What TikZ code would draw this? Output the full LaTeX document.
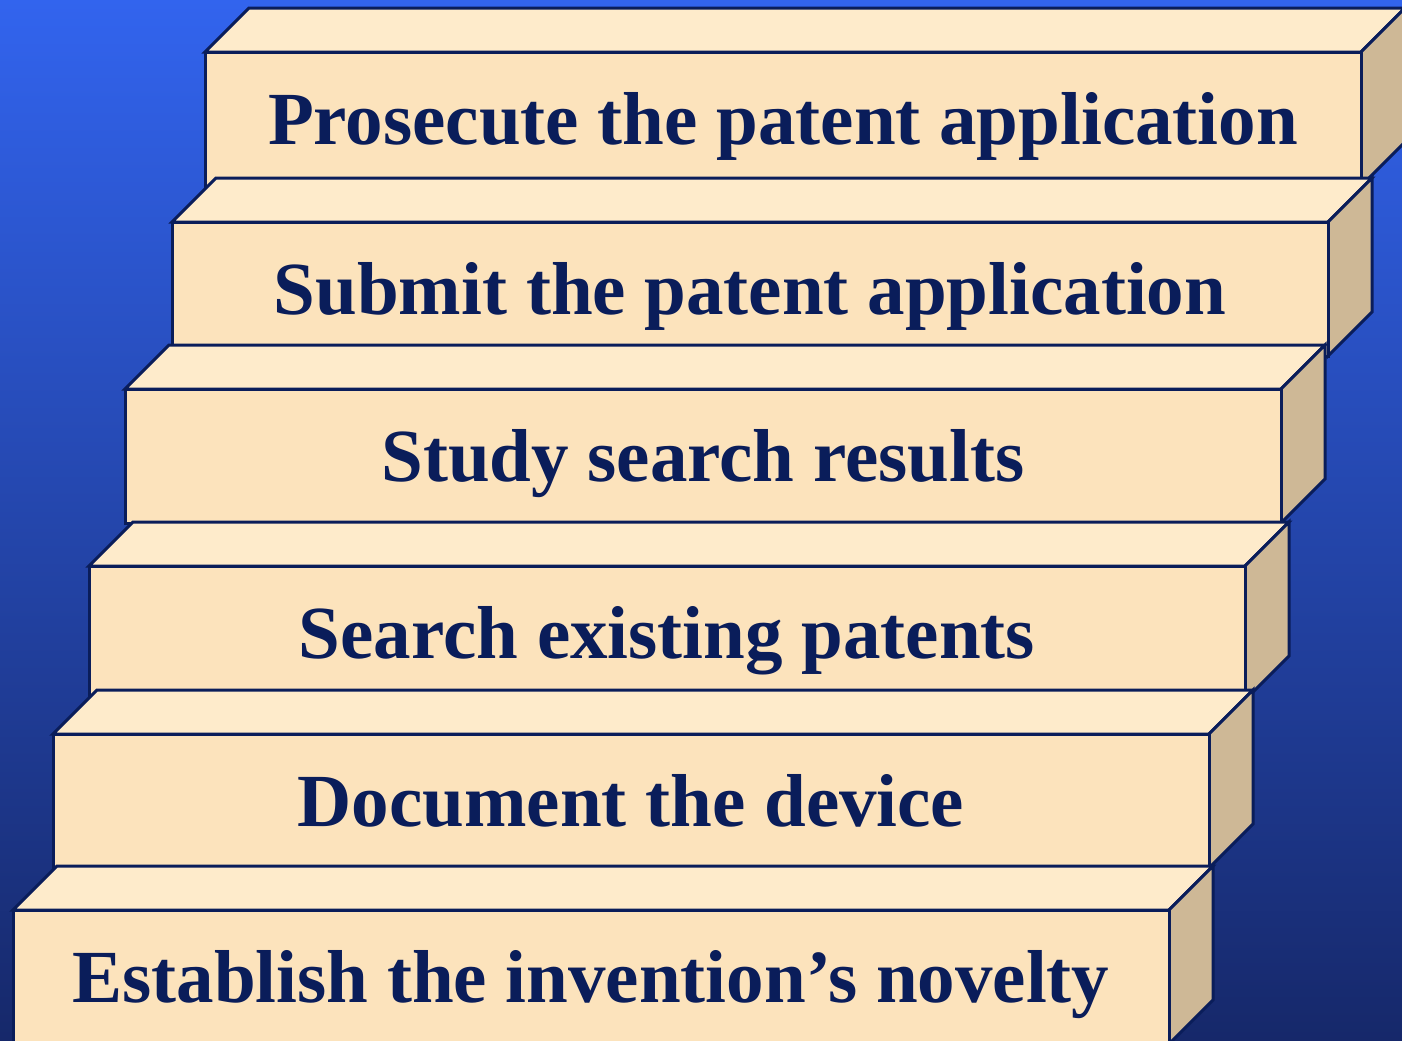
\documentclass[tikz,border=0pt]{standalone}
\usepackage{fontspec}
\setmainfont{Liberation Serif}
\definecolor{stepfront}{HTML}{FCE3BC}
\definecolor{steptop}{HTML}{FEEBCB}
\definecolor{stepside}{HTML}{CEB896}
\definecolor{navy}{HTML}{0A1D5A}
\definecolor{skytop}{HTML}{3264EE}
\definecolor{skybottom}{HTML}{16286A}
\begin{document}
\begin{tikzpicture}[x=0.5pt, y=-0.5pt,
  face/.style={draw=navy, line width=1.5pt, line join=miter},
  steptext/.style={anchor=base, text=navy, font=\bfseries\fontsize{37.5}{40}\selectfont}]
\shade[top color=skytop, bottom color=skybottom] (0,0) rectangle (1402,1040);
\useasboundingbox (0,0) rectangle (1402,1040);

% steps, top one first so the lower ones lie over it
\foreach \x/\y/\txt [count=\i] in {205/52/{Prosecute the patent application},
    172/222/{Submit the patent application}, 125/389/{Study search results},
    89/566/{Search existing patents}, 53/734/{Document the device},
    13/910/{Establish the invention’s novelty}}
{
  \filldraw[face, fill=steptop] (\x,\y) -- ++(44,-44) -- ++(1156,0) -- ++(-44,44) -- cycle;
  \filldraw[face, fill=stepside] (\x+1156,\y) -- ++(44,-44) -- ++(0,134) -- ++(-44,44) -- cycle;
  \filldraw[face, fill=stepfront] (\x,\y) rectangle ++(1156,134);
  \node[steptext] (step\i) at (\x+578,\y+92) {\txt};
}
\end{tikzpicture}
\end{document}
